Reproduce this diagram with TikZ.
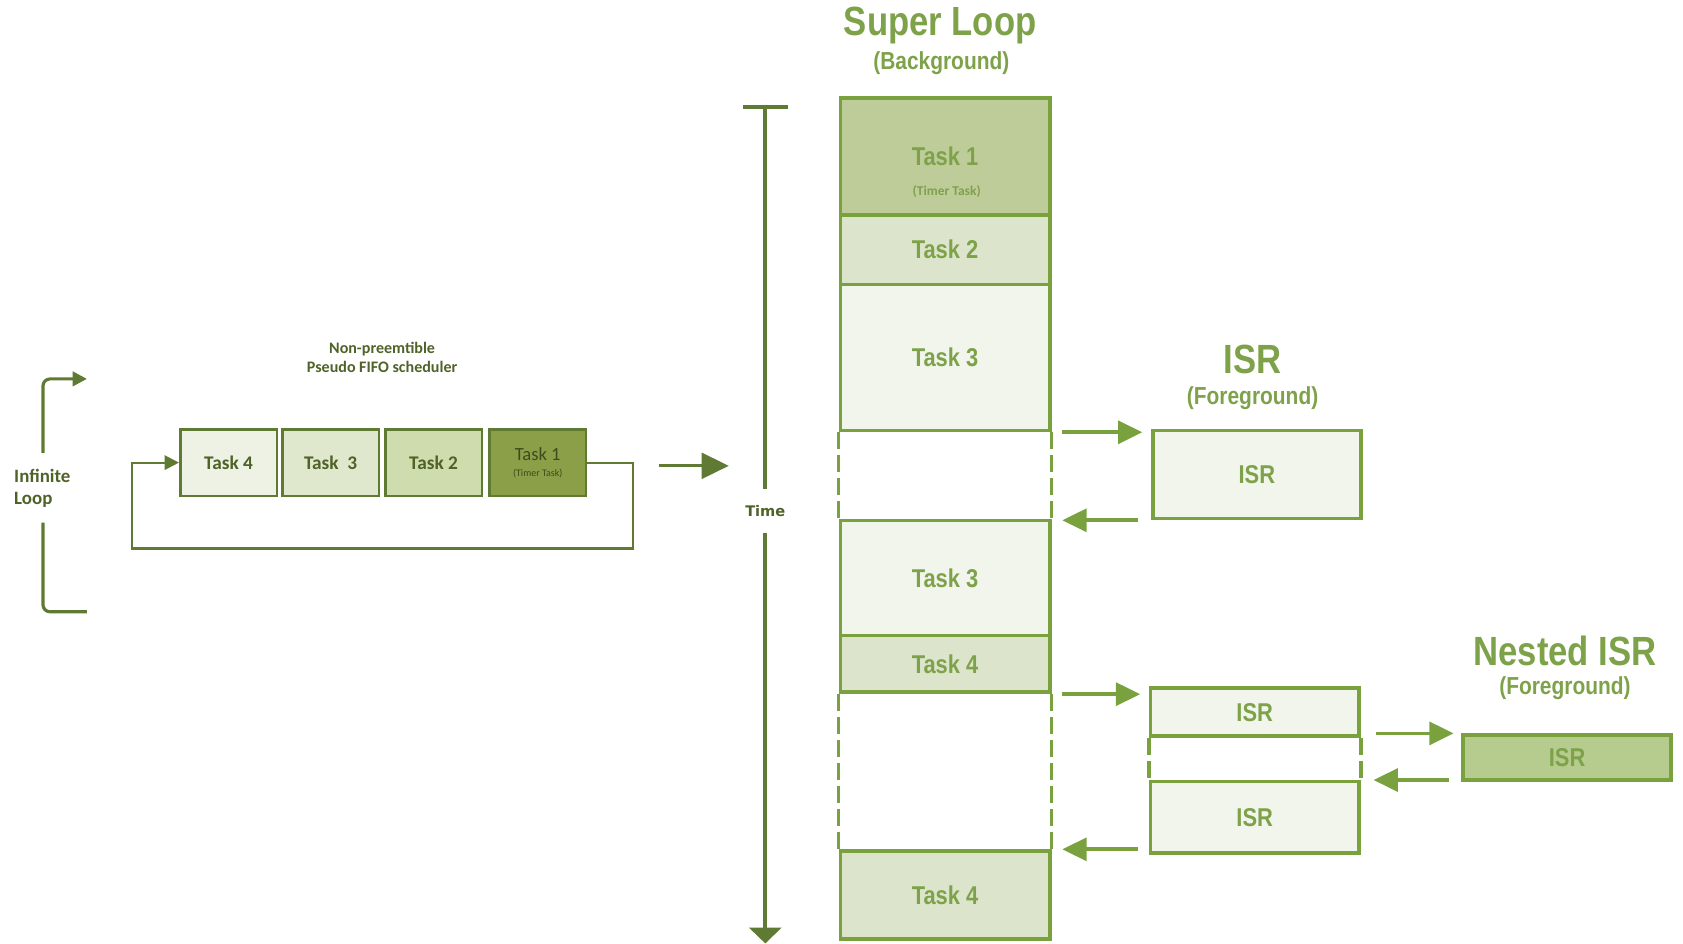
\documentclass[tikz,border=0pt]{standalone}
\usepackage{fontspec}
\setmainfont{Carlito}
\newfontfamily\rfont[FakeStretch=0.85]{Liberation Sans}
\newfontfamily\tfont{DejaVu Sans}
\usetikzlibrary{arrows.meta,calc}
\definecolor{olv}{HTML}{5F7A32}
\definecolor{oltxt}{HTML}{4F6228}
\definecolor{oldark}{HTML}{3D4C1C}
\definecolor{lf1}{HTML}{8A9F48}
\definecolor{lf2}{HTML}{CFDDAE}
\definecolor{lf3}{HTML}{DFE7CD}
\definecolor{lf4}{HTML}{EEF2E4}
\definecolor{gb}{HTML}{79A23E}
\definecolor{gt}{HTML}{7EA24A}
\definecolor{rf1}{HTML}{BDCC99}
\definecolor{rf2}{HTML}{DCE5CB}
\definecolor{rf3}{HTML}{F2F5EC}
\definecolor{rfn}{HTML}{B6CB8E}
\tikzset{
  sz/.style 2 args={minimum width=#1*0.75pt, minimum height=#2*0.75pt, inner sep=0pt},
  lbox/.style={draw=olv, line width=1.9pt, text=oltxt, font=\bfseries\fontsize{13.5}{15}\selectfont},
  ltxt/.style={text=oltxt, font=\bfseries\fontsize{13.2}{15.75}\selectfont},
  rbox/.style={draw=gb, line width=2.6pt, text=gt, font=\rfont\bfseries\fontsize{18}{20}\selectfont},
  rhead/.style={text=gt, font=\rfont\bfseries\fontsize{28.5}{30}\selectfont, inner sep=0pt},
  rsub/.style={text=gt, font=\rfont\bfseries\fontsize{17.2}{19}\selectfont, inner sep=0pt},
  rarr/.style={draw=gb, line width=2.6pt, -{Triangle[length=17pt,width=16pt]}},
  dside/.style={draw=gb, line width=2.6pt, dash pattern=on 12pt off 4pt},
  axisline/.style={draw=olv, line width=3pt},
  brk/.style={draw=olv, line width=2.2pt, rounded corners=5pt},
}
\begin{document}
\begin{tikzpicture}[x=0.75pt,y=-0.75pt]
\useasboundingbox (0,0) rectangle (1568,879);

% ---------- left part ----------
\node[ltxt, anchor=west, align=left, inner sep=0pt] (inf) at (13,455) {Infinite\\Loop};
\coordinate (bt1) at (40,422);
\coordinate (bt2) at (81,353);
\coordinate (bb1) at (40,487);
\coordinate (bb2) at (81,570);
\draw[brk, -{Triangle[length=10pt,width=10pt]}] (bt1) |- (bt2);
\draw[brk] (bb1) |- (bb2);

\node[align=center, text=oltxt, font=\bfseries\fontsize{11.2}{13.5}\selectfont] (sched) at (356,333) {Non-preemtible\\Pseudo FIFO scheduler};

\node[lbox, sz={90}{62}, fill=lf4] (l4) at (213,431) {Task 4};
\node[lbox, sz={90}{62}, fill=lf3] (l3) at (308,431) {Task\ \ 3};
\node[lbox, sz={90}{62}, fill=lf2] (l2) at (404,431) {Task 2};
\node[lbox, sz={90}{62}, fill=lf1, align=center, text=oldark, font=\fontsize{13}{12}\selectfont] (l1) at (501,431) {Task 1\\[-1pt]{\fontsize{7}{7}\selectfont (Timer Task)}};

\coordinate (lr) at (590,511);
\coordinate (ll) at (123,511);
\draw[draw=olv, line width=1.5pt, -{Triangle[length=10pt,width=10pt]}] (l1.east) -| (lr) -- (ll) |- (l4.west);

\coordinate (la1) at (614,434);
\coordinate (la2) at (679,434);
\draw[draw=olv, line width=2.2pt, -{Triangle[length=19pt,width=18pt]}] (la1) -- (la2);

% ---------- time axis ----------
\node[text=oltxt, font=\tfont\bfseries\fontsize{10.2}{11}\selectfont, minimum height=30pt, inner sep=0pt] (time) at (713,476) {Time};
\coordinate (ttop) at (713,100);
\coordinate (tl) at (692,100);
\coordinate (tr) at (734,100);
\coordinate (tbot) at (713,879);
\draw[axisline] (tl) -- (tr);
\draw[axisline] (ttop) -- (time.north);
\draw[axisline, -{Triangle[length=11pt,width=22pt]}] (time.south) -- (tbot);

% ---------- super loop column ----------
\node[rhead] (sl) at (876,24) {Super Loop};
\node[rsub] (bg) at (877,59) {(Background)};

\node[rbox, sz={195}{109}, fill=rf1] (rt1) at (880.5,145.5) {Task 1};
\node[text=gt, font=\bfseries\fontsize{9.4}{10}\selectfont] (rt1s) at (882,178) {(Timer Task)};
\node[rbox, sz={195}{65}, fill=rf2] (rt2) at (880.5,232.5) {Task 2};
\node[rbox, sz={195}{136}, fill=rf3] (rt3a) at (880.5,333) {Task 3};
\node[rbox, sz={195}{107}, fill=rf3] (rt3b) at (880.5,538.5) {Task 3};
\node[rbox, sz={195}{53}, fill=rf2] (rt4a) at (880.5,618.5) {Task 4};
\node[rbox, sz={195}{82}, fill=rf2] (rt4b) at (880.5,834) {Task 4};
\draw[dside] (rt3a.south west) -- (rt3b.north west);
\draw[dside] (rt3a.south east) -- (rt3b.north east);
\draw[dside] (rt4a.south west) -- (rt4b.north west);
\draw[dside] (rt4a.south east) -- (rt4b.north east);

% ---------- ISR ----------
\node[rhead] (isrh) at (1167,335) {ISR};
\node[rsub] (isrs) at (1167,371) {(Foreground)};
\node[rbox, sz={194}{82}, fill=rf3] (isr1) at (1171,442) {ISR};
\draw[rarr] ($(rt3a.south east)+(10,0)$) -- ($(rt3a.south east -| isr1.west)+(-8,0)$);
\draw[rarr] ($(isr1.south west)+(-12,0)$) -- ($(isr1.south west -| rt3b.east)+(10,0)$);

% ---------- nested ISR ----------
\node[rbox, sz={194}{45}, fill=rf3] (isr2a) at (1169,663.5) {ISR};
\node[rbox, sz={194}{67}, fill=rf3] (isr2b) at (1169,761.5) {ISR};
\draw[dside] (isr2a.south west) -- (isr2b.north west);
\draw[dside] (isr2a.south east) -- (isr2b.north east);
\draw[rarr] ($(rt4a.south east)+(10,0)$) -- ($(rt4a.south east -| isr2a.west)+(-8,0)$);
\draw[rarr] ($(rt4b.north east -| isr2b.west)+(-10,0)$) -- ($(rt4b.north east)+(10,0)$);

\node[rhead] (nh) at (1458,606) {Nested ISR};
\node[rsub] (ns) at (1458,641) {(Foreground)};
\node[rbox, sz={194}{42}, fill=rfn] (nisr) at (1460,706) {ISR};
\draw[rarr] ($(nisr.north west -| isr2a.east)+(14,0)$) -- ($(nisr.north west)+(-7,0)$);
\draw[rarr] ($(nisr.south west)+(-11,-2)$) -- ($(nisr.south west -| isr2b.east)+(12,-2)$);
\end{tikzpicture}
\end{document}
